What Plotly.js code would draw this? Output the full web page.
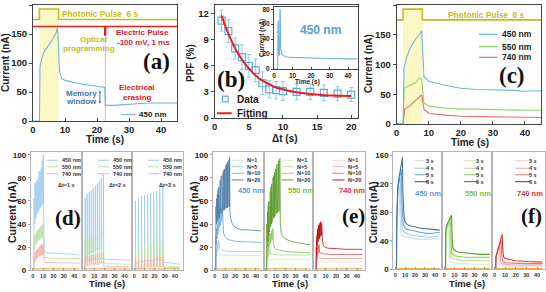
<!DOCTYPE html>
<html><head><meta charset="utf-8">
<script src="https://cdn.plot.ly/plotly-3.0.1.min.js"></script>
<style>html,body{margin:0;padding:0;background:#fff}#chart{width:546px;height:292px}</style>
</head><body><div id="chart"></div>
<script>
// ================= DATA =================
// (a) single device, 450 nm
const a_t = [0,2,2.2,2.6,3.5,4.5,5.5,6.5,7.2,7.6,7.8,8.3,9,10,12,14,16,18,20,22.4,22.6,25,28,30,33,36,40,45];
const a_v = [0,0,95,105,120,127,135,145,152,160,150,85,73,70,67,65,63,61,60,58,27,27,28,29,30,31,31,31];
const a_pulse_t = [0,2,2,8,8,45];
const a_pulse_v = [175,175,193,193,175,175];
const a_epulse_t = [0,22.4,22.4,22.7,22.7,45];
const a_epulse_v = [163,163,148,148,163,163];
// (b) PPF vs interval
const b_dt  = [1,2,3,4,5,6,7,8,9,10,12,14,16,18,20];
const b_ppf = [11.2,10.0,8.0,7.0,6.0,5.5,4.0,3.3,3.2,3.1,3.0,3.0,2.9,2.8,2.7];
const b_err = [1.2,1.3,1.2,1.4,1.3,1.3,1.3,1.0,1.0,1.1,0.9,0.9,0.9,0.8,0.8];
const b_fit_t = [1,1.5,2,3,4,5,6,7,8,9,10,12,14,16,18,20];
const b_fit_v = [11.8,10.7,9.7,8.0,6.7,5.7,4.9,4.3,3.9,3.5,3.3,2.95,2.75,2.63,2.57,2.53];
const b_in_t = [0,2,2.1,2.3,2.5,2.7,3.0,3.2,3.4,3.6,4,5,7,10,15,20,30,40,45];
const b_in_v = [0,0,60,65,20,18,20,80,78,30,20,18,16,15.5,15,14.5,14,13.5,13.5];
// (c) three wavelengths
const c_t450 = [0,2,2.3,3,4,5.5,7,7.8,8.5,10,15,20,25,30,35,40,45];
const c_v450 = [0,0,95,110,125,140,150,157,80,72,65,60,58,58,57,55,56];
const c_t550 = [0,2,2.3,4,6,7,7.8,8.5,10,15,20,25,30,40,45];
const c_v550 = [0,0,60,65,70,77,75,35,30,27,25,25,24,23,23];
const c_t740 = [0,2,2.5,4,5,6,7.5,7.8,8.5,10,15,20,30,45];
const c_v740 = [0,0,25,30,35,40,48,49,25,18,15,13,12,11];
const c_pulse_t = [0,2,2,8,8,45];
const c_pulse_v = [175,175,193,193,175,175];
const wavelengths = ['450 nm','550 nm','740 nm'];
// (d) pulse trains with different intervals
const d_T1 = [1,2,3,4,5,6,7,8,9,10];
const d1_450_P = [62,76,75,78,80,86,85,88,95,100], d1_450_B = [0,40,45,48,50,52,54,55,57,58];
const d1_550_P = [25,30,32,34,35,36,37,38,39,40], d1_550_B = [0,18,22,24,25,26,27,28,28,29];
const d1_740_P = [12,15,17,18,19,20,21,22,22,23], d1_740_B = [0,7,9,10,11,12,12,13,13,13];
const d1_tailT = [10.6,11,15,20,30,40,45];
const d1_450_tail = [16,15.5,15,14.5,14,13.5,13];
const d1_550_tail = [11,10.8,10.5,10.3,10,10,10];
const d1_740_tail = [7,6.8,6.5,6.3,6,6,6];
const d_T2 = [1,3,5,7,9,11,13,15,17,19];
const d2_450_P = [63,66,68,69,71,73,75,77,80,83], d2_450_B = [0,12,14,15,16,17,18,18,19,19];
const d2_550_P = [24,26,27,28,28,29,30,30,31,32], d2_550_B = [0,7,8,8,9,9,9,10,10,10];
const d2_740_P = [11,12,12,13,13,13,14,14,14,15], d2_740_B = [0,4,4,5,5,5,5,5,6,6];
const d2_tailT = [19.4,21,30,40,45];
const d2_450_tail = [10,9.5,9,8.5,8.5];
const d2_550_tail = [6,5.5,5,5,5];
const d2_740_tail = [3.5,3,3,3,3];
const d_T3 = [1,4,7,10,13,16,19,22,25,28];
const d3_450_P = [60,62,64,65,66,67,68,69,71,73], d3_450_B = [0,6,7,7,8,8,8,9,9,9];
const d3_550_P = [20,21,22,22,23,23,24,24,25,25], d3_550_B = [0,4,4,4,5,5,5,5,5,5];
const d3_740_P = [10,10,11,11,11,11,12,12,12,12], d3_740_B = [0,2,2,2,3,3,3,3,3,3];
const d3_tailT = [28.4,31,35,40,45];
const d3_450_tail = [7,6.5,6,5.5,5];
const d3_550_tail = [4,3.5,3,3,3];
const d3_740_tail = [2.5,2,2,2,2];
const d_labels = ['Δt=1 s','Δt=2 s','Δt=3 s'];
const dark_t = [0,45], dark_v = [1,1];
// (e) different pulse numbers
const e_T20 = [1,1.7,2.4,3.1,3.8,4.5,5.2,5.9,6.6,7.3,8,8.7,9.4,10.1,10.8,11.5,12.2,12.9,13.6,14.3];
const e_T10 = [1,1.7,2.4,3.1,3.8,4.5,5.2,5.9,6.6,7.3];
const e_T5  = [1,1.7,2.4,3.1,3.8];
const e_T1  = [1];
const e1_N20_P = [55,62,66,70,72,75,78,80,82,84,85,87,88,90,91,92,94,95,96,98];
const e1_N20_B = [0,40,42,44,45,46,48,49,50,50,51,52,52,53,53,54,54,55,55,55];
const e1_N20_tT = [14.7,15.5,17,20,25,30,40,45], e1_N20_tV = [50,45,40,37,35,35,34,34];
const e1_N10_P = [30,36,40,43,46,48,50,52,54,55], e1_N10_B = [0,22,27,31,34,37,39,41,43,45];
const e1_N10_tT = [7.7,8.5,10,12,15,20,30,45], e1_N10_tV = [40,32,29,27,26,25,24.5,24];
const e1_N5_P = [16,20,22,24,26], e1_N5_B = [0,12,15,17,19];
const e1_N5_tT = [4.2,5,7,10,20,45], e1_N5_tV = [20,18,17,16.5,16,16];
const e1_N1_P = [14], e1_N1_B = [0];
const e1_N1_tT = [1.5,3,10,45], e1_N1_tV = [13,13,13,12.5];
const e2_N20_P = [40,50,56,60,65,68,72,75,78,80,82,85,87,88,90,92,93,95,96,97];
const e2_N20_B = [0,20,25,30,33,36,38,40,42,44,45,46,47,48,49,50,50,51,51,52];
const e2_N20_tT = [14.7,15.5,17,20,25,30,35,40,45], e2_N20_tV = [40,32,29,27,25,24,23,22.5,22];
const e2_N10_P = [20,24,27,29,31,32,33,34,35,36], e2_N10_B = [0,12,16,19,21,23,24,25,26,27];
const e2_N10_tT = [7.7,8.5,10,15,20,30,45], e2_N10_tV = [24,20,18,17,16,15.5,15];
const e2_N5_P = [12,15,17,18,19], e2_N5_B = [0,8,10,12,13];
const e2_N5_tT = [4.2,5,8,15,45], e2_N5_tV = [15,14,13.5,13,13];
const e2_N1_P = [10], e2_N1_B = [0];
const e2_N1_tT = [1.5,3,10,45], e2_N1_tV = [9,9,9,9];
const e3_T20 = [1,1.3,1.6,1.9,2.2,2.5,2.8,3.1,3.4,3.7,4,4.3,4.6,4.9,5.2,5.5,5.8,6.1,6.4,6.7];
const e3_T10 = [1,1.3,1.6,1.9,2.2,2.5,2.8,3.1,3.4,3.7];
const e3_T5  = [1,1.3,1.6,1.9,2.2];
const e3_N20_P = [20,26,30,33,35,36,37,38,39,39,40,40,41,41,42,42,41,41,40,40];
const e3_N20_B = [0,12,18,21,23,24,25,26,27,27,28,28,29,29,30,30,30,30,30,30];
const e3_N20_tT = [7,7.5,9,12,20,30,45], e3_N20_tV = [28,22,20,19,18.5,18,18];
const e3_N10_P = [12,15,17,18,19,20,20,21,21,22], e3_N10_B = [0,9,11,12,13,14,14,15,15,15];
const e3_N10_tT = [4,5,8,15,45], e3_N10_tV = [16,15,14,13.5,13.5];
const e3_N5_P = [9,11,12,13,13], e3_N5_B = [0,7,8,9,9];
const e3_N5_tT = [2.5,4,10,45], e3_N5_tV = [11,10.5,10,10];
const e3_N1_P = [7], e3_N1_B = [0];
const e3_N1_tT = [1.3,10,45], e3_N1_tV = [7,7,7];
const N_labels = ['N=1','N=5','N=10','N=20'];
// (f) different pulse widths
const f1_6_t = [0,1.2,1.4,1.8,2.5,3.5,4.5,5.5,6.5,7.2,7.6,8.2,9,10,12,15,20,25,30,35,40,45];
const f1_6_v = [0,0,60,100,115,126,135,142,150,157,110,78,70,66,63,61,59,58,57,56,55,55];
const f1_5_t = [0,1.2,1.4,1.8,2.5,3.5,4.5,5.5,6.2,6.6,7.2,8,10,12,15,20,25,30,35,40,45];
const f1_5_v = [0,0,58,98,112,122,130,136,140,100,70,63,58,56,55,53,52,51,50,51,52];
const f1_4_t = [0,1.2,1.4,1.8,2.5,3.5,4.5,5.2,5.6,6.2,7,9,12,15,20,25,30,35,40,45];
const f1_4_v = [0,0,55,95,108,118,124,128,90,62,56,52,50,48,47,46,45,45,46,47];
const f1_3_t = [0,1.2,1.4,1.8,2.5,3.5,4.2,4.6,5.2,6,8,12,15,20,25,30,35,40,45];
const f1_3_v = [0,0,52,90,104,112,116,80,55,48,46,45,44,43,42,42,42,43,43];
const f2_6_t = [0,1.2,1.4,2,3,4,5,6,7,7.3,7.7,8.5,10,12,15,20,25,30,35,40,45];
const f2_6_v = [0,0,50,60,64,67,70,73,76,75,45,30,27,25,24,23,22,21,21,21,21];
const f2_5_t = [0,1.2,1.4,2,3,4,5,6,6.3,6.8,7.5,10,15,20,30,45];
const f2_5_v = [0,0,48,58,62,65,68,72,73,35,22,19,18,17,17,17];
const f2_4_t = [0,1.2,1.4,2,3,4,5,5.3,5.8,6.5,10,15,20,30,45];
const f2_4_v = [0,0,46,56,60,63,66,66,30,16,14,13,12,12,12];
const f2_3_t = [0,1.2,1.4,2,3,4,4.3,4.8,5.5,10,20,30,45];
const f2_3_v = [0,0,44,54,58,61,62,25,11,9,8,7,7];
const f3_6_t = [0,1.2,1.4,2,3,4,5,6,7,7.3,7.7,8.5,10,15,20,30,45];
const f3_6_v = [0,0,18,22,27,32,37,42,48,49,30,18,15,13,12,11,10];
const f3_5_t = [0,1.2,1.4,2,3,4,5,6,6.3,6.8,7.5,10,20,30,45];
const f3_5_v = [0,0,17,21,26,30,34,38,40,22,12,9,8,8,8];
const f3_4_t = [0,1.2,1.4,2,3,4,5,5.3,5.8,6.5,10,20,45];
const f3_4_v = [0,0,16,20,24,28,31,32,15,8,7,6,6];
const f3_3_t = [0,1.2,1.4,2,3,4,4.3,4.8,5.5,10,20,45];
const f3_3_v = [0,0,15,19,23,26,27,12,6,5,4.5,4.5];
const W_labels = ['3 s','4 s','5 s','6 s'];

// ================= LAYOUT HELPERS =================
const W = 546, H = 292;
const FONT = 'Liberation Sans, Arial, sans-serif';
const SERIF = 'Liberation Serif, Times New Roman, serif';
const px = v => v / W, py = v => 1 - v / H;
const C450 = '#6cb6e6', C550 = '#8ed462', C740 = '#f26a64', OLIVE = '#c6bb1e', RED = '#e3211c';

function line(x, y, xa, ya, color, width, extra) {
  return Object.assign({type:'scatter', mode:'lines', x, y, xaxis:xa, yaxis:ya,
    line:{color, width}, hoverinfo:'skip', showlegend:false}, extra || {});
}
function spikes(T, P, B, tT, tV) {
  const x = [0], y = [B[0]];
  for (let k = 0; k < T.length; k++) {
    x.push(T[k]); y.push(B[k]);
    x.push(T[k] + 0.08); y.push(P[k]);
    if (k < T.length - 1) { x.push(Math.min(T[k] + 0.35, T[k+1] - 0.02)); y.push(B[k+1]); }
  }
  for (let i = 0; i < tT.length; i++) { x.push(tT[i]); y.push(tV[i]); }
  return {x, y};
}
function sp(T, P, B, tT, tV, xa, ya, color, width) {
  const s = spikes(T, P, B, tT, tV);
  return line(s.x, s.y, xa, ya, color, width);
}

const topAxis = {showline:true, mirror:true, linecolor:'#444', linewidth:1, ticks:'inside', ticklen:3,
  tickcolor:'#444', tickfont:{family:FONT, size:9.5, color:'#222', weight:'bold'}, showgrid:false, zeroline:false, fixedrange:true};
const botAxis = {showline:true, mirror:true, linecolor:'#b5b5b5', linewidth:1, ticks:'inside', ticklen:2,
  tickcolor:'#999', tickfont:{family:FONT, size:5.5, color:'#333', weight:'bold'}, showgrid:false, zeroline:false, fixedrange:true};
function axis(base, d0, d1, isY, range, tickvals, extra) {
  const dom = isY ? [py(d1), py(d0)] : [px(d0), px(d1)];
  return Object.assign({}, base, {domain:dom, range, tickvals, autorange:false}, extra || {});
}

const layout = {width:W, height:H, margin:{l:0,r:0,t:0,b:0}, paper_bgcolor:'#fff', plot_bgcolor:'rgba(0,0,0,0)',
  showlegend:false, font:{family:FONT}};
// top row
layout.xaxis  = axis(topAxis, 33, 177, false, [0,45], [0,10,20,30,40], {anchor:'y'});
layout.yaxis  = axis(topAxis, 5, 121, true, [0,200], [0,50,100,150,200], {anchor:'x', ticks:'outside'});
layout.xaxis2 = axis(topAxis, 214.7, 358, false, [0,21], [0,5,10,15,20], {anchor:'y2'});
layout.yaxis2 = axis(topAxis, 5, 118, true, [0,13], [0,3,6,9,12], {anchor:'x2', ticks:'outside'});
const inTick = {family:FONT, size:6.5, color:'#222', weight:'bold'};
layout.xaxis3 = axis(topAxis, 274, 358, false, [0,45.4], [0,10,20,30,40], {anchor:'y3', ticklen:2, tickfont:inTick});
layout.yaxis3 = axis(topAxis, 7, 69, true, [0,83], [0,20,40,60,80], {anchor:'x3', ticklen:2, tickfont:inTick, ticks:'outside'});
layout.xaxis4 = axis(topAxis, 396.7, 541, false, [0,45], [0,10,20,30,40], {anchor:'y4'});
layout.yaxis4 = axis(topAxis, 5, 124, true, [0,200], [0,50,100,150,200], {anchor:'x4', ticks:'outside'});
// bottom row
const bx = [[30.7,82],[82,132.3],[132.3,182.5],[212.7,263.7],[263.7,313],[313,365],[393.3,442.3],[442.3,492.3],[492.3,545]];
const yTickFont = {family:FONT, size:8, color:'#222', weight:'bold'};
for (let i = 0; i < 9; i++) {
  const n = i + 5;
  const grp = Math.floor(i / 3);
  const first = i % 3 === 0;
  const yr = grp === 2 ? [0,164.5] : [0,102.6];
  const ytv = grp === 2 ? [0,40,80,120,160] : [0,20,40,60,80,100];
  layout['xaxis' + n] = axis(botAxis, bx[i][0], bx[i][1], false, [-2,47.5], [0,10,20,30,40], {anchor:'y' + n});
  layout['yaxis' + n] = axis(botAxis, 152, grp === 2 ? 269.3 : 270, true, yr, ytv,
    {anchor:'x' + n, showticklabels:first, ticks:first ? 'outside' : '', tickfont:yTickFont});
}

// ================= TRACES =================
const data = [];
// (a)
data.push(line(a_pulse_t, a_pulse_v, 'x', 'y', OLIVE, 1.6));
data.push(line(a_epulse_t, a_epulse_v, 'x', 'y', RED, 1.4));
data.push(line(a_t, a_v, 'x', 'y', C450, 1.1));
// (b)
data.push({type:'scatter', mode:'markers', x:b_dt, y:b_ppf, xaxis:'x2', yaxis:'y2', hoverinfo:'skip',
  marker:{symbol:'square-open', size:7, color:'#5aaee3', line:{width:1.2}},
  error_y:{type:'data', array:b_err, visible:true, color:'#8cc6ec', thickness:1, width:2}});
data.push(line(b_fit_t, b_fit_v, 'x2', 'y2', '#ee1c1c', 2, {line:{color:'#ee1c1c', width:2, shape:'spline'}}));
data.push(line(b_in_t, b_in_v, 'x3', 'y3', C450, 1.1));
// (c)
data.push(line(c_pulse_t, c_pulse_v, 'x4', 'y4', OLIVE, 1.6));
data.push(line(c_t740, c_v740, 'x4', 'y4', C740, 1.1));
data.push(line(c_t550, c_v550, 'x4', 'y4', C550, 1.1));
data.push(line(c_t450, c_v450, 'x4', 'y4', C450, 1.1));
// (d)
const dC = ['#9ecbee', '#b8e49e', '#f7b0aa'];
const dSets = [
  [d_T1, [d1_450_P,d1_550_P,d1_740_P], [d1_450_B,d1_550_B,d1_740_B], d1_tailT, [d1_450_tail,d1_550_tail,d1_740_tail]],
  [d_T2, [d2_450_P,d2_550_P,d2_740_P], [d2_450_B,d2_550_B,d2_740_B], d2_tailT, [d2_450_tail,d2_550_tail,d2_740_tail]],
  [d_T3, [d3_450_P,d3_550_P,d3_740_P], [d3_450_B,d3_550_B,d3_740_B], d3_tailT, [d3_450_tail,d3_550_tail,d3_740_tail]]];
dSets.forEach((s, i) => {
  const xa = 'x' + (5 + i), ya = 'y' + (5 + i);
  for (let w = 0; w < 3; w++) data.push(sp(s[0], s[1][w], s[2][w], s[3], s[4][w], xa, ya, dC[w], 0.8));
  data.push(line(dark_t, dark_v, xa, ya, '#f3a23a', 1));
});
// (e)
const eCols = [['#d2e6f5','#b0d3ee','#86b8e0','#4d7fa8'], ['#d9efc8','#bfe3a0','#98d068','#5a9a2a'], ['#fbd6d3','#f6aea9','#ee7872','#c0141a']];
const eSets = [
  [[e_T1,e_T5,e_T10,e_T20], [e1_N1_P,e1_N5_P,e1_N10_P,e1_N20_P], [e1_N1_B,e1_N5_B,e1_N10_B,e1_N20_B],
   [e1_N1_tT,e1_N5_tT,e1_N10_tT,e1_N20_tT], [e1_N1_tV,e1_N5_tV,e1_N10_tV,e1_N20_tV]],
  [[e_T1,e_T5,e_T10,e_T20], [e2_N1_P,e2_N5_P,e2_N10_P,e2_N20_P], [e2_N1_B,e2_N5_B,e2_N10_B,e2_N20_B],
   [e2_N1_tT,e2_N5_tT,e2_N10_tT,e2_N20_tT], [e2_N1_tV,e2_N5_tV,e2_N10_tV,e2_N20_tV]],
  [[e_T1,e3_T5,e3_T10,e3_T20], [e3_N1_P,e3_N5_P,e3_N10_P,e3_N20_P], [e3_N1_B,e3_N5_B,e3_N10_B,e3_N20_B],
   [e3_N1_tT,e3_N5_tT,e3_N10_tT,e3_N20_tT], [e3_N1_tV,e3_N5_tV,e3_N10_tV,e3_N20_tV]]];
eSets.forEach((s, i) => {
  const xa = 'x' + (8 + i), ya = 'y' + (8 + i);
  for (let n = 0; n < 4; n++) data.push(sp(s[0][n], s[1][n], s[2][n], s[3][n], s[4][n], xa, ya, eCols[i][n], n === 3 ? 0.8 : 1));
  data.push(line(dark_t, dark_v, xa, ya, '#f3a23a', 1));
});
// (f)
const fSets = [
  [[f1_3_t,f1_4_t,f1_5_t,f1_6_t],[f1_3_v,f1_4_v,f1_5_v,f1_6_v]],
  [[f2_3_t,f2_4_t,f2_5_t,f2_6_t],[f2_3_v,f2_4_v,f2_5_v,f2_6_v]],
  [[f3_3_t,f3_4_t,f3_5_t,f3_6_t],[f3_3_v,f3_4_v,f3_5_v,f3_6_v]]];
const fCols = [['#c6e0f3','#9ccbec','#6aa6d6','#3f78a8'], ['#d5eec3','#b3e08f','#8ccc5a','#5e9e2e'], ['#fbd3d0','#f7a8a3','#f07470','#d9383a']];
fSets.forEach((s, i) => {
  const xa = 'x' + (11 + i), ya = 'y' + (11 + i);
  for (let n = 0; n < 4; n++) data.push(line(s[0][n], s[1][n], xa, ya, fCols[i][n], 1.1));
  data.push(line(dark_t, dark_v, xa, ya, '#f3a23a', 1));
});

// ================= SHAPES & ANNOTATIONS =================
const shapes = [];
const ann = [];
function T(text, x, y, xref, yref, size, color, o) {
  ann.push(Object.assign({text, x, y, xref, yref, showarrow:false, font:{family:FONT, size, color},
    xanchor:'center', yanchor:'middle'}, o || {}));
}
function serif(text, x, y, xref, yref, size) {
  ann.push({text:'<b>' + text + '</b>', x, y, xref, yref, showarrow:false,
    font:{family:SERIF, size, color:'#111'}, xanchor:'center', yanchor:'middle'});
}
function segment(x0, x1, y, xr, yr, color, width) {
  shapes.push({type:'line', x0, x1, y0:y, y1:y, xref:xr, yref:yr, line:{color, width}});
}
// (a)
shapes.push({type:'rect', xref:'x', yref:'y', x0:2, x1:8, y0:0, y1:193, fillcolor:'#fbf8c4', line:{width:0}, layer:'below'});
shapes.push({type:'line', xref:'x', yref:'y', x0:22.6, x1:22.6, y0:0, y1:163, line:{color:'#f6b4b2', width:1}, layer:'below'});
T('<b>Photonic Pulse&nbsp; 6 s</b>', 8.4, 185, 'x', 'y', 8.3, OLIVE, {xanchor:'left'});
T('<b>Optical</b>', 18.8, 141, 'x', 'y', 8, OLIVE);
T('<b>programming</b>', 17.5, 125, 'x', 'y', 8, OLIVE);
T('<b>Electric Pulse</b>', 25.2, 152.5, 'x', 'y', 8, RED, {xanchor:'left'});
T('<b>-100 mV, 1 ms</b>', 25.6, 135.5, 'x', 'y', 8, RED, {xanchor:'left'});
serif('(a)', 38.6, 102, 'x', 'y', 23);
T('<b>Memory</b>', 15.3, 47.4, 'x', 'y', 8, '#3b78ae');
T('<b>window</b>', 15.1, 32.8, 'x', 'y', 8, '#3b78ae');
ann.push({x:20.9, y:30, ax:20.9, ay:55, xref:'x', yref:'y', axref:'x', ayref:'y', text:'', showarrow:true,
  arrowhead:2, arrowside:'end+start', arrowsize:0.5, arrowwidth:1, arrowcolor:'#3b78ae'});
T('<b>Electrical</b>', 32.6, 57.7, 'x', 'y', 8, RED);
T('<b>erasing</b>', 32.6, 40.4, 'x', 'y', 8, RED);
segment(27.7, 31.9, 11, 'x', 'y', C450, 1.1);
T('<b>450 nm</b>', 32.4, 11, 'x', 'y', 8, '#222', {xanchor:'left'});
T('<b>Current (nA)</b>', px(6), py(63), 'paper', 'paper', 10, '#222', {textangle:-90});
T('<b>Time (s)</b>', px(105), py(140), 'paper', 'paper', 10, '#222');
// (b)
serif('(b)', 2.4, 4.4, 'x2', 'y2', 23);
shapes.push({type:'rect', xref:'x2', yref:'y2', x0:1.14, x1:1.98, y0:1.85, y1:2.51, line:{color:'#5aaee3', width:1.2}});
T('<b>Data</b>', 3.0, 2.18, 'x2', 'y2', 10, '#222', {xanchor:'left'});
segment(0.34, 2.5, 0.54, 'x2', 'y2', '#ee1c1c', 2);
T('<b>Fitting</b>', 3.0, 0.54, 'x2', 'y2', 10, '#222', {xanchor:'left'});
T('<b>PPF (%)</b>', px(191), py(63), 'paper', 'paper', 10, '#222', {textangle:-90});
T('<b>Δt (s)</b>', px(285), py(138.5), 'paper', 'paper', 10, '#222');
T('<b>450 nm</b>', 24.9, 52, 'x3', 'y3', 12, '#4aa2e2');
T('<b>Current (nA)</b>', px(262), py(38), 'paper', 'paper', 6.5, '#222', {textangle:-90});
T('<b>Time (s)</b>', px(307), py(82), 'paper', 'paper', 6.5, '#222');
// (c)
shapes.push({type:'rect', xref:'x4', yref:'y4', x0:2, x1:8, y0:0, y1:193, fillcolor:'#fbf8c4', line:{width:0}, layer:'below'});
T('<b>Photonic Pulse&nbsp; 6 s</b>', 15.3, 184, 'x4', 'y4', 8.3, OLIVE, {xanchor:'left'});
const cLegY = [150.7, 130, 112], cLegC = [C450, C550, C740];
for (let i = 0; i < 3; i++) {
  segment(25.7, 31.4, cLegY[i], 'x4', 'y4', cLegC[i], 1.1);
  T('<b>' + wavelengths[i] + '</b>', 32.3, cLegY[i], 'x4', 'y4', 8.5, '#222', {xanchor:'left'});
}
serif('(c)', 36.1, 82, 'x4', 'y4', 23);
T('<b>Current (nA)</b>', px(368), py(64), 'paper', 'paper', 10, '#222', {textangle:-90});
T('<b>Time (s)</b>', px(470), py(142.5), 'paper', 'paper', 10, '#222');
// (d)
const dLegY = [95.4, 89.8, 83.7];
for (let s = 0; s < 3; s++) {
  const xr = 'x' + (5 + s), yr = 'y' + (5 + s);
  for (let i = 0; i < 3; i++) {
    segment(13.4, 24.5, dLegY[i], xr, yr, dC[i], 1);
    T('<b>' + wavelengths[i] + '</b>', 26.2, dLegY[i], xr, yr, 5.5, '#333', {xanchor:'left'});
  }
  T('<b>' + d_labels[s] + '</b>', 32.6, 73.6, xr, yr, 5.5, '#333');
}
serif('(d)', 34, 45.5, 'x5', 'y5', 21);
T('<b>Current (nA)</b>', px(12), py(212), 'paper', 'paper', 10.5, '#222', {textangle:-90});
T('<b>Time (s)</b>', px(107), py(283.5), 'paper', 'paper', 9.5, '#222');
// (e)
const eLegY = [95.4, 89.8, 84.1, 78.3];
const eLab = [['450 nm','#5b9bd5'], ['550 nm','#7cc142'], ['740 nm','#e8302a']];
for (let s = 0; s < 3; s++) {
  const xr = 'x' + (8 + s), yr = 'y' + (8 + s);
  for (let i = 0; i < 4; i++) {
    segment(16.5, 28, eLegY[i], xr, yr, eCols[s][i], 1);
    T('<b>' + N_labels[i] + '</b>', 29.5, eLegY[i], xr, yr, 5.5, '#333', {xanchor:'left'});
  }
  T('<b>' + eLab[s][0] + '</b>', 35.5, 68.7, xr, yr, 7.5, eLab[s][1]);
}
serif('(e)', 37, 47, 'x10', 'y10', 21);
T('<b>Current (nA)</b>', px(194), py(212), 'paper', 'paper', 10.5, '#222', {textangle:-90});
T('<b>Time (s)</b>', px(290), py(283.5), 'paper', 'paper', 9.5, '#222');
// (f)
const fLegY = [152.5, 141.7, 132.5, 123];
for (let s = 0; s < 3; s++) {
  const xr = 'x' + (11 + s), yr = 'y' + (11 + s);
  for (let i = 0; i < 4; i++) {
    segment(19.5, 33.5, fLegY[i], xr, yr, fCols[s][i], 1.1);
    T('<b>' + W_labels[i] + '</b>', 41.5, fLegY[i], xr, yr, 5.5, '#333', {xanchor:'right'});
  }
  T('<b>' + eLab[s][0] + '</b>', 33.5, 106, xr, yr, 7.5, eLab[s][1]);
}
serif('(f)', 35, 74.6, 'x13', 'y13', 21);
T('<b>Current (nA)</b>', px(373), py(212), 'paper', 'paper', 10.5, '#222', {textangle:-90});
T('<b>Time (s)</b>', px(467), py(283.5), 'paper', 'paper', 9.5, '#222');

layout.shapes = shapes;
layout.annotations = ann;
Plotly.newPlot('chart', data, layout, {staticPlot:true, displayModeBar:false});
</script></body></html>
